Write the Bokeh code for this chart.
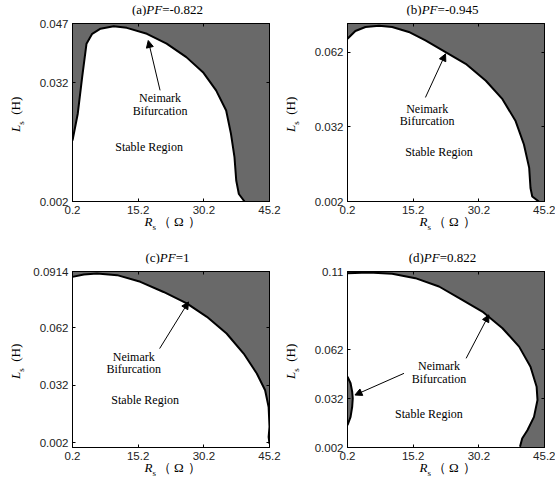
from bokeh.plotting import figure
from bokeh.models import Range1d, FixedTicker, Label, Arrow, NormalHead, Div, LinearAxis
from bokeh.layouts import column, row
from bokeh.embed import file_html
from bokeh.resources import INLINE

GRAY = "#696969"
SERIF = "Liberation Serif"
SANS = "Liberation Sans"

# ---------------- data ----------------
x_ticks = [0.2, 15.2, 30.2, 45.2]
x_tick_labels = ["0.2", "15.2", "30.2", "45.2"]
x_range = (0.2, 45.2)

a_title = ["(a)", "PF", "=-0.822"]
a_y_range = (0.002, 0.047)
a_y_ticks = [0.002, 0.032, 0.047]
a_y_tick_labels = ["0.002", "0.032", "0.047"]
a_R = [0.2, 1.4, 2.4, 3.4, 4.7, 6.6, 9.6, 12.6, 17.2, 21.7, 26.2, 30.0, 33.0, 35.3, 36.4, 37.2, 37.6, 38.2, 39.5]
a_L = [0.0174, 0.0242, 0.0334, 0.0419, 0.0444, 0.0457, 0.0463, 0.0459, 0.0444, 0.0419, 0.0385, 0.0347, 0.0301,
       0.0250, 0.0191, 0.0132, 0.0073, 0.0039, 0.002]

b_title = ["(b)", "PF", "=-0.945"]
b_y_range = (0.002, 0.0735)
b_y_ticks = [0.002, 0.032, 0.062]
b_y_tick_labels = ["0.002", "0.032", "0.062"]
b_R = [0.2, 2.0, 4.3, 7.4, 10.4, 14.2, 18.0, 22.6, 27.2, 31.8, 35.6, 38.6, 40.5, 41.7, 42.0, 42.4, 43.9]
b_L = [0.0674, 0.0705, 0.0721, 0.0726, 0.0721, 0.0701, 0.0667, 0.0620, 0.0573, 0.0505, 0.0431, 0.0343, 0.0249,
       0.0155, 0.0074, 0.0040, 0.002]

c_title = ["(c)", "PF", "=1"]
c_y_range = (-0.0006, 0.0914)
c_y_ticks = [0.002, 0.032, 0.062, 0.0914]
c_y_tick_labels = ["0.002", "0.032", "0.062", "0.0914"]
c_R = [0.2, 2.8, 5.8, 10.4, 15.7, 21.0, 26.3, 30.9, 35.4, 39.3, 42.3, 44.2, 45.0, 45.2, 45.0, 45.2]
c_L = [0.0886, 0.0898, 0.0903, 0.0895, 0.0860, 0.0807, 0.0747, 0.0677, 0.0590, 0.0485, 0.0381, 0.0293, 0.0206,
       0.0102, 0.0049, 0.0013]

d_title = ["(d)", "PF", "=0.822"]
d_y_range = (0.002, 0.11)
d_y_ticks = [0.002, 0.032, 0.062, 0.11]
d_y_tick_labels = ["0.002", "0.032", "0.062", "0.11"]
d_R = [0.2, 5.1, 10.4, 15.7, 21.1, 26.4, 31.0, 35.6, 39.4, 42.0, 43.4, 43.6, 42.8, 41.3, 40.1, 39.6]
d_L = [0.1090, 0.1094, 0.1086, 0.1059, 0.1008, 0.0926, 0.0854, 0.0752, 0.0639, 0.0516, 0.0393, 0.0311, 0.0208,
       0.0126, 0.0075, 0.0024]
d_left_R = [0.2, 0.9, 1.27, 1.4, 1.27, 0.9, 0.2]
d_left_L = [0.0454, 0.0414, 0.0362, 0.0321, 0.0270, 0.0208, 0.0157]

FW = 197  # frame width in px
OVERFLOW_CSS = ":host { overflow: visible !important; } div { overflow: visible !important; }"
FONT_CSS = "font-family:'Liberation Serif',serif; font-size:13px; line-height:13px; white-space:nowrap; color:black;"


def div(html, w, h):
    return Div(text=html, width=w, height=h, margin=0, stylesheets=[OVERFLOW_CSS])


def style_axis(ax, ticks, labels, show_labels=True):
    ax.ticker = FixedTicker(ticks=ticks)
    ax.major_tick_in = 3
    ax.major_tick_out = 0
    ax.minor_tick_line_color = None
    ax.axis_line_color = "black"
    ax.major_tick_line_color = "black"
    if show_labels:
        ax.major_label_overrides = {t: s for t, s in zip(ticks, labels)}
        ax.major_label_text_font = SANS
        ax.major_label_text_font_size = "11.5px"
        ax.major_label_text_color = "#222222"
        ax.major_label_standoff = 4
    else:
        ax.major_label_overrides = {t: "" for t in ticks}
        ax.major_label_text_font_size = "0px"
        ax.major_label_standoff = 0


def make_panel(title, y_range, y_ticks, y_tick_labels, R, L, fh, yl_w, br, xl_h, yl_left, patch_extra):
    fig_w = 42 + FW + br
    fig_h = 8 + fh + 18
    p = figure(width=fig_w, height=fig_h, output_backend="svg", toolbar_location=None, title=None,
               x_range=Range1d(*x_range), y_range=Range1d(*y_range),
               min_border_left=42, min_border_right=br, min_border_top=8, min_border_bottom=18)
    p.background_fill_color = GRAY
    p.border_fill_color = "white"
    p.outline_line_color = "black"
    p.grid.visible = False
    style_axis(p.xaxis[0], x_ticks, x_tick_labels)
    style_axis(p.yaxis[0], y_ticks, y_tick_labels)
    top_ax = LinearAxis()
    style_axis(top_ax, x_ticks, x_tick_labels, show_labels=False)
    p.add_layout(top_ax, "above")
    right_ax = LinearAxis()
    style_axis(right_ax, y_ticks, y_tick_labels, show_labels=False)
    p.add_layout(right_ax, "right")

    xs = list(R) + patch_extra[0]
    ys = list(L) + patch_extra[1]
    p.patch(xs, ys, fill_color="white", line_color=None)
    p.line(R, L, line_color="black", line_width=2)

    panel_w = yl_w + fig_w
    frame_left = yl_w + 42

    # title: (x)PF=value with italic PF
    t_html = (f'<div style="position:relative; top:2px; margin-left:{frame_left - 3}px; width:{FW}px; '
              f'text-align:center; {FONT_CSS}">{title[0]}<i>{title[1]}</i>{title[2]}</div>')
    t_div = div(t_html, panel_w, 15)

    # y label: L_s (H), rotated
    t_off = 8 + fh / 2 + 19
    y_html = (f'<div style="position:relative; left:{yl_left}px; top:{t_off}px; width:max-content; '
              f'transform:rotate(-90deg); transform-origin:0 0; {FONT_CSS}">'
              f'<i>L</i><span style="font-size:9px; vertical-align:-4px;">s</span>&nbsp;&nbsp;(H)</div>')
    y_div = div(y_html, yl_w, fig_h)

    # x label: R_s (Ω)
    x_html = (f'<div style="position:relative; top:-5px; margin-left:{frame_left + FW / 2 - 26}px; '
              f'width:max-content; {FONT_CSS}">'
              f'<i>R</i><span style="font-size:9px; vertical-align:-4px;">s</span>'
              f'<span style="margin-left:2px;">&#xFF08;</span>'
              f'<span style="margin-left:3px; margin-right:4px;">&#x03A9;</span>&#xFF09;</div>')
    x_div = div(x_html, panel_w, xl_h)

    return p, column(t_div, row(y_div, p), x_div)


def note(p, x, y, text):
    p.add_layout(Label(x=x, y=y, text=text, text_font=SERIF, text_font_size="12px",
                       text_align="center", text_baseline="middle", text_color="black"))


def arrow(p, xs, ys, xe, ye):
    p.add_layout(Arrow(end=NormalHead(size=7, fill_color="black", line_color="black", line_width=1),
                       x_start=xs, y_start=ys, x_end=xe, y_end=ye, line_color="black", line_width=1))


pa, la = make_panel(a_title, a_y_range, a_y_ticks, a_y_tick_labels, a_R, a_L, 178, 30, 14, 29, 9,
                    ([0.2], [0.002]))
arrow(pa, 20.2, 0.0301, 17.5, 0.0427)
note(pa, 20.2, 0.0281, "Neimark")
note(pa, 20.2, 0.0250, "Bifurcation")
note(pa, 17.7, 0.0157, "Stable Region")

pb, lb = make_panel(b_title, b_y_range, b_y_ticks, b_y_tick_labels, b_R, b_L, 178, 22, 11, 29, 1,
                    ([0.2], [0.002]))
arrow(pb, 18.0, 0.0438, 22.6, 0.0613)
note(pb, 18.4, 0.0391, "Neimark")
note(pb, 18.4, 0.0343, "Bifurcation")
note(pb, 21.1, 0.0219, "Stable Region")

pc, lc = make_panel(c_title, c_y_range, c_y_ticks, c_y_tick_labels, c_R, c_L, 176, 30, 14, 23, 9,
                    ([45.2, 0.2], [-0.0006, -0.0006]))
arrow(pc, 20.1, 0.0511, 26.7, 0.0755)
note(pc, 14.2, 0.0468, "Neimark")
note(pc, 14.2, 0.0403, "Bifurcation")
note(pc, 16.8, 0.0241, "Stable Region")

pd_, ld = make_panel(d_title, d_y_range, d_y_ticks, d_y_tick_labels, d_R, d_L, 176, 22, 11, 23, 1,
                     ([39.6, 0.2], [0.002, 0.002]))
pd_.patch(d_left_R, d_left_L, fill_color=GRAY, line_color=None)
pd_.line(d_left_R, d_left_L, line_color="black", line_width=2)
arrow(pd_, 27.3, 0.0567, 32.5, 0.0834)
arrow(pd_, 13.1, 0.0475, 1.9, 0.0342)
note(pd_, 21.1, 0.0520, "Neimark")
note(pd_, 21.1, 0.0438, "Bifurcation")
note(pd_, 18.8, 0.0225, "Stable Region")

layout = column(row(la, lb), row(lc, ld))
open("out.html", "w").write(file_html(layout, INLINE))
